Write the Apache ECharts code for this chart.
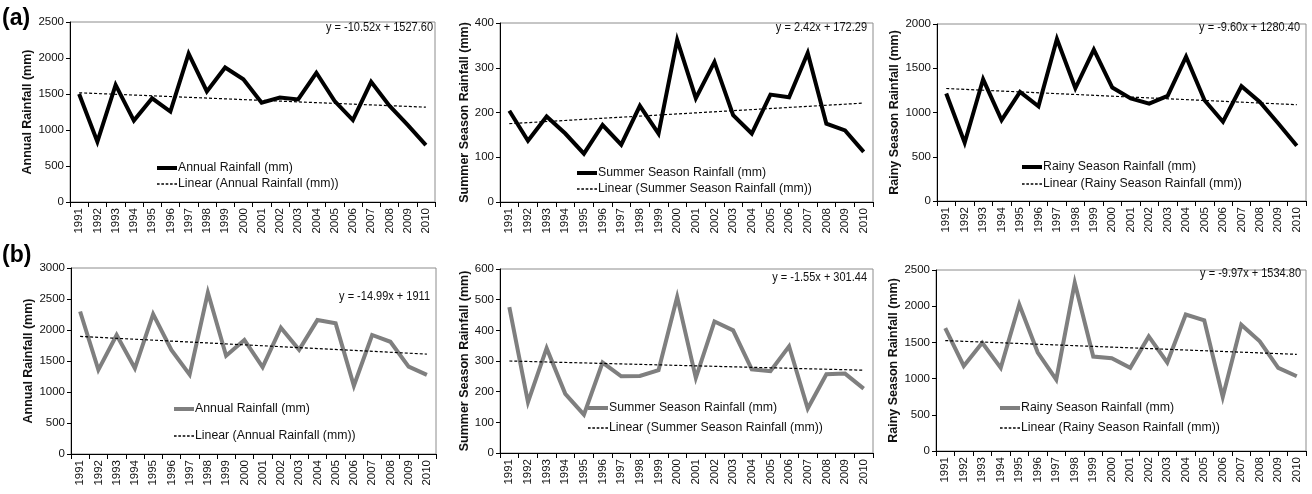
<!DOCTYPE html>
<html>
<head>
<meta charset="utf-8">
<script src="https://cdn.jsdelivr.net/npm/echarts@6/dist/echarts.min.js"></script>
<style>
html,body{margin:0;padding:0;background:#fff;}
#chart{width:1312px;height:494px;}
</style>
</head>
<body>
<div id="chart"></div>
<script>
// ---- data ----
const years = ['1991','1992','1993','1994','1995','1996','1997','1998','1999','2000',
               '2001','2002','2003','2004','2005','2006','2007','2008','2009','2010'];

const annualA = [1500, 837, 1626, 1130, 1440, 1256, 2060, 1535, 1868, 1705, 1380, 1450, 1424, 1795, 1402, 1137, 1668, 1337, 1070, 790];
const summerA = [204, 137, 191, 153, 108, 172, 128, 215, 153, 362, 232, 313, 194, 153, 240, 234, 333, 175, 160, 112];
const rainyA  = [1214, 658, 1375, 914, 1233, 1071, 1830, 1274, 1710, 1282, 1158, 1100, 1188, 1630, 1139, 895, 1297, 1120, 876, 624];

const annualB = [2298, 1357, 1920, 1382, 2257, 1678, 1280, 2605, 1585, 1840, 1400, 2038, 1680, 2160, 2107, 1100, 1920, 1810, 1410, 1276];
const summerB = [476, 166, 342, 193, 125, 295, 250, 251, 270, 509, 245, 429, 400, 273, 267, 348, 145, 257, 259, 210];
const rainyB  = [1698, 1175, 1495, 1148, 2023, 1360, 986, 2323, 1304, 1281, 1148, 1583, 1222, 1885, 1806, 746, 1745, 1514, 1148, 1032];

// trend line end values (first year, last year)
const trendAnnualA = [1517, 1317];
const trendSummerA = [175, 221];
const trendRainyA  = [1271, 1088];
const trendAnnualB = [1896, 1611];
const trendSummerB = [300, 270];
const trendRainyB  = [1525, 1335];

const equations = ['y = -10.52x + 1527.60', 'y = 2.42x + 172.29', 'y = -9.60x + 1280.40',
                   'y = -14.99x + 1911', 'y = -1.55x + 301.44', 'y = -9.97x + 1534.80'];
const yNames = ['Annual Rainfall (mm)', 'Summer Season Rainfall (mm)', 'Rainy Season Rainfall (mm)',
                'Annual Rainfall (mm)', 'Summer Season Rainfall (mm)', 'Rainy Season Rainfall (mm)'];
const yMax = [2500, 400, 2000, 3000, 600, 2500];
const yStep = [500, 100, 500, 500, 100, 500];

// ---- layout / style ----
const FONT = 'Liberation Sans, Arial, sans-serif';
const values = [annualA, summerA, rainyA, annualB, summerB, rainyB];
const trends = [trendAnnualA, trendSummerA, trendRainyA, trendAnnualB, trendSummerB, trendRainyB];
const grids = [
  {left: 70, top: 22, width: 365, height: 180},
  {left: 500, top: 23, width: 373, height: 179},
  {left: 937, top: 24, width: 369, height: 177},
  {left: 71, top: 268, width: 365, height: 186},
  {left: 500, top: 269, width: 373, height: 184},
  {left: 936, top: 270, width: 370, height: 181}
];
const nameGaps = [26, 26, 27, 27, 24, 29];
const legendPos = [
  {left: 157, top: 162, gap: 4},
  {left: 577, top: 167, gap: 4},
  {left: 1022, top: 161, gap: 5},
  {left: 174, top: 403, gap: 15},
  {left: 588, top: 402, gap: 8},
  {left: 1000, top: 402, gap: 8}
];
const eqPos = [[433, 28], [867, 28], [1300, 28], [430, 297], [867, 278], [1301, 274]];

const lineIcon = 'path://M0,0 L20,0 L20,4 L0,4 Z';
const dashIcon = 'path://M0,0 L2.4,0 L2.4,1.2 L0,1.2 Z M4,0 L6.4,0 L6.4,1.2 L4,1.2 Z M8,0 L10.4,0 L10.4,1.2 L8,1.2 Z M12,0 L14.4,0 L14.4,1.2 L12,1.2 Z M16,0 L18.4,0 L18.4,1.2 L16,1.2 Z';

const option = {
  animation: false,
  backgroundColor: '#fff',
  textStyle: {fontFamily: FONT},
  grid: [], xAxis: [], yAxis: [], series: [], legend: [],
  graphic: []
};

for (let i = 0; i < 6; i++) {
  const g = grids[i];
  const rowB = i >= 3;
  const suffix = rowB ? ' ' : '';
  const lineColor = rowB ? '#7f7f7f' : '#000';
  option.grid.push(Object.assign({show: true, borderColor: '#8c8c8c', borderWidth: 1, containLabel: false}, g));
  option.xAxis.push({
    type: 'category', gridIndex: i, data: years, boundaryGap: true,
    axisLine: {lineStyle: {color: '#000', width: 1}},
    axisTick: {show: true, interval: 0, length: 5, lineStyle: {color: '#000'}},
    axisLabel: {interval: 0, rotate: 90, fontSize: 11.5, color: '#111', margin: 6, fontFamily: FONT}
  });
  option.yAxis.push({
    type: 'value', gridIndex: i, min: 0, max: yMax[i], interval: yStep[i],
    name: yNames[i], nameLocation: 'middle', nameGap: nameGaps[i],
    nameTextStyle: {fontSize: 12.5, fontWeight: 'bold', color: '#111', fontFamily: FONT},
    axisLine: {show: true, lineStyle: {color: '#000', width: 1}},
    axisTick: {show: true, length: 4, lineStyle: {color: '#000'}},
    axisLabel: {fontSize: 11.5, color: '#111', margin: 6, fontFamily: FONT,
                formatter: v => String(v)},
    splitLine: {show: false}
  });
  const baseName = yNames[i] + suffix;
  const trendName = 'Linear (' + yNames[i] + ')' + suffix;
  const tv = trends[i];
  const trendData = years.map((y, k) => k === 0 ? tv[0] : (k === years.length - 1 ? tv[1] : null));
  option.series.push({
    name: baseName, type: 'line', xAxisIndex: i, yAxisIndex: i, data: values[i],
    symbol: 'none', lineStyle: {color: lineColor, width: 4, cap: 'butt', join: 'miter'},
    itemStyle: {color: lineColor}, z: 3
  });
  option.series.push({
    name: trendName, type: 'line', xAxisIndex: i, yAxisIndex: i, data: trendData,
    connectNulls: true, symbol: 'none',
    lineStyle: {color: '#000', width: 1.2, type: [3, 2]}, itemStyle: {color: '#000'}, z: 4
  });
  const lp = legendPos[i];
  option.legend.push({
    orient: 'vertical', left: lp.left, top: lp.top, padding: 0, itemGap: lp.gap,
    itemWidth: 20, itemHeight: 14, selectedMode: false,
    textStyle: {fontSize: 12.3, color: '#111', fontFamily: FONT, padding: [0, 0, 0, -4]},
    data: [
      {name: baseName, icon: lineIcon, itemStyle: {color: lineColor}},
      {name: trendName, icon: dashIcon, itemStyle: {color: '#000'}}
    ]
  });
  option.graphic.push({
    type: 'text', x: eqPos[i][0], y: eqPos[i][1], scaleX: 0.88, z: 10,
    style: {text: equations[i], textAlign: 'right', textVerticalAlign: 'middle',
            font: '12.5px ' + FONT, fill: '#111'}
  });
}
option.graphic.push({type: 'text', x: 2, y: 19, style: {text: '(a)', textVerticalAlign: 'middle', font: 'bold 23px ' + FONT, fill: '#000'}});
option.graphic.push({type: 'text', x: 2, y: 256, style: {text: '(b)', textVerticalAlign: 'middle', font: 'bold 23px ' + FONT, fill: '#000'}});

const chart = echarts.init(document.getElementById('chart'), null, {renderer: 'canvas'});
chart.setOption(option);
</script>
</body>
</html>
